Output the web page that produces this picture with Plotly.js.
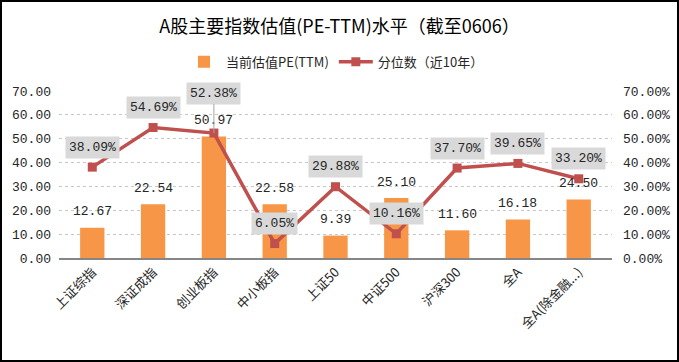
<!DOCTYPE html>
<html><head><meta charset="utf-8">
<script src="https://cdn.plot.ly/plotly-3.0.1.min.js"></script>
<style>
html,body{margin:0;padding:0;background:#fff;}
#wrap{position:relative;width:679px;height:362px;}
#chart{width:679px;height:362px;}
#frame{position:absolute;left:0;top:0;width:679px;height:362px;box-sizing:border-box;border:2px solid #000;pointer-events:none;}
</style></head>
<body>
<div id="wrap"><div id="chart"></div><div id="frame"></div></div>
<script>
const categories = ['上证综指','深证成指','创业板指','中小板指','上证50','中证500','沪深300','全A','全A(除金融...)'];
const peValues = [12.67, 22.54, 50.97, 22.58, 9.39, 25.10, 11.60, 16.18, 24.50];
const percentile = [0.3809, 0.5469, 0.5238, 0.0605, 0.2988, 0.1016, 0.3770, 0.3965, 0.3320];
const peLabels = ['12.67','22.54','50.97','22.58','9.39','25.10','11.60','16.18','24.50'];
const pctLabels = ['38.09%','54.69%','52.38%','6.05%','29.88%','10.16%','37.70%','39.65%','33.20%'];

const numFont = 'Liberation Mono, Noto Sans CJK SC, monospace';
const cjkFont = 'Noto Sans CJK SC, Liberation Serif, serif';
const txt = '#262626';

const traces = [
  {type:'bar', name:'当前估值PE(TTM)', x:categories, y:peValues, marker:{color:'#F79646'}, width:0.4, yaxis:'y'},
  {type:'scatter', mode:'lines+markers', name:'分位数（近10年）', x:categories, y:percentile, yaxis:'y2',
   line:{color:'#C0504D', width:3.5}, marker:{symbol:'square', size:9, color:'#C0504D'}}
];

const annotations = [];
categories.forEach((c,i)=>{
  annotations.push({x:c, y:peValues[i], xref:'x', yref:'y', text:peLabels[i], showarrow:false, yshift:16,
    font:{family:numFont, size:13, color:txt}});
  const big = (i===2);
  annotations.push({x:c, y:percentile[i], xref:'x', yref:'y2', text:pctLabels[i],
    showarrow:big, arrowhead:0, arrowwidth:1, arrowcolor:'#A6A6A6', ax:0, ay:big?-40:0,
    yshift:big?0:20, bgcolor:'#D9D9D9', borderpad:3,
    font:{family:numFont, size:13, color:txt}});
});

const layout = {
  width:679, height:362,
  margin:{l:59, r:67, t:91, b:104},
  paper_bgcolor:'#fff', plot_bgcolor:'#fff',
  title:{text:'A股主要指数估值(PE-TTM)水平（截至0606）', x:0.5, xanchor:'center', y:0.925, yanchor:'middle',
    font:{family:cjkFont, size:18, color:'#000'}},
  showlegend:true,
  legend:{orientation:'h', x:0.5, xanchor:'center', y:1.175, yanchor:'middle',
    font:{family:cjkFont, size:13, color:txt}, traceorder:'normal', itemwidth:34},
  xaxis:{type:'category', tickangle:-45, tickfont:{family:cjkFont, size:13, color:txt},
    showline:true, linecolor:'#868686', linewidth:1.5, ticks:'', showgrid:false, zeroline:false},
  yaxis:{range:[0,70], dtick:10, tickformat:'.2f', showgrid:true, gridcolor:'#C8C8C8', griddash:'dot', gridwidth:1,
    zeroline:false, showline:false, tickfont:{family:numFont, size:13, color:txt}, ticklabelstandoff:7},
  yaxis2:{range:[0,0.7], dtick:0.1, tickformat:'.2%', overlaying:'y', side:'right', showgrid:false, zeroline:false,
    showline:false, tickfont:{family:numFont, size:13, color:txt}, ticklabelstandoff:10},
  annotations:annotations
};

Plotly.newPlot('chart', traces, layout, {displayModeBar:false, staticPlot:true});
</script>
</body></html>
